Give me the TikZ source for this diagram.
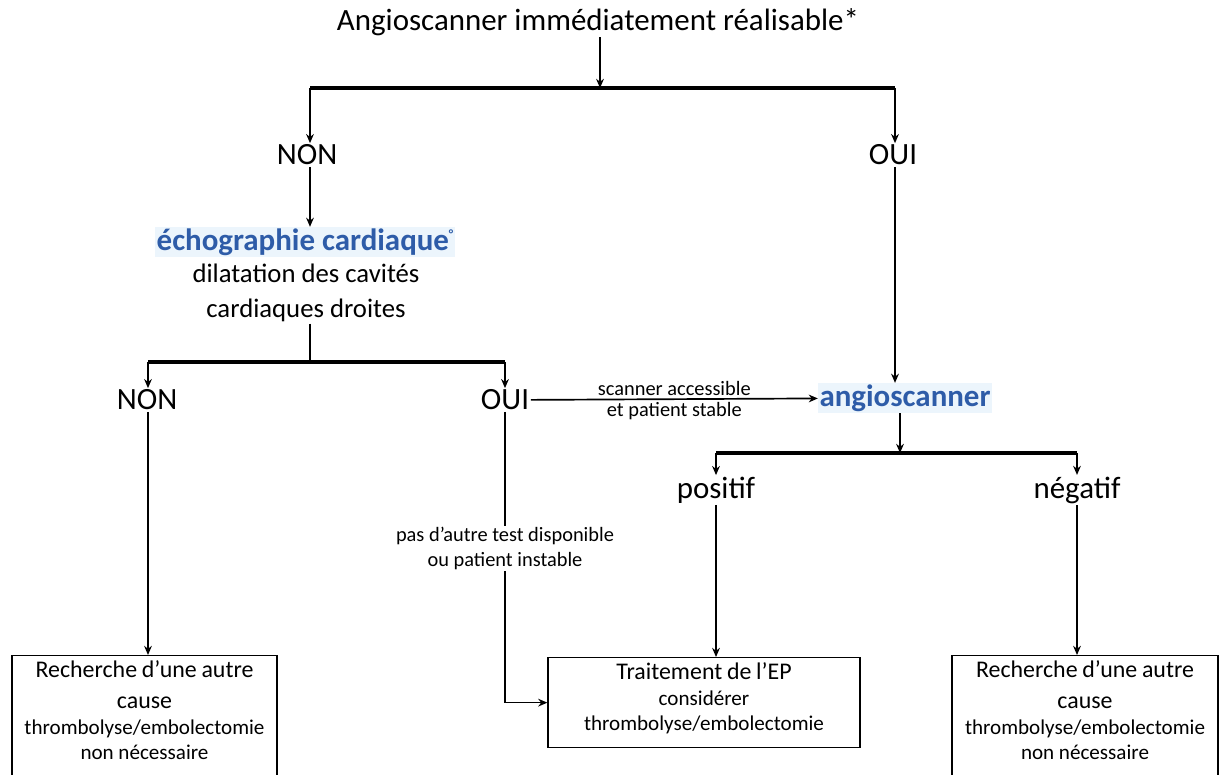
\documentclass[tikz,border=0pt]{standalone}
\usepackage{fontspec}
\setmainfont{Carlito}
\usetikzlibrary{arrows.meta}
\definecolor{examblue}{RGB}{46,92,168}
\definecolor{examglow}{RGB}{236,245,252}
\newcommand{\bigtxt}{\fontsize{22}{26}\selectfont}
\newcommand{\boxtxt}{\fontsize{17}{22}\selectfont}
\newcommand{\smalltxt}{\fontsize{15}{18}\selectfont}
\newcommand{\lbltxt}{\fontsize{14.5}{18}\selectfont}

\begin{document}
\begin{tikzpicture}[x=0.025cm, y=-0.025cm,
  heavy/.style={line width=2.2pt},
  medium/.style={line width=1.8pt},
  light/.style={line width=1.2pt},
  tip/.style={-{Stealth[length=6.5pt,width=5.5pt]}},
  answer/.style={font=\bigtxt, inner sep=1pt},
  exam/.style={font=\bigtxt\bfseries, text=examblue, fill=examglow, inner sep=1pt},
  note/.style={font=\lbltxt, align=center, inner sep=1pt},
  resbox/.style={draw, line width=0.9pt},
  restext/.style={align=center, inner sep=1pt, text width=6.5cm}]
\useasboundingbox (0,0) rectangle (1220,774);
\clip (0,0) rectangle (1220,774);

% first question
\node[answer] (ask) at (598,22) {Angioscanner immédiatement réalisable*};
\coordinate (split) at (600,88);
\coordinate (splitL) at (310,88);
\coordinate (splitR) at (895,88);
\node[answer] (non) at (307,155) {NON};
\node[answer] (oui) at (893,155) {OUI};
\draw[medium,tip] (ask.south -| split) -- (split);
\draw[heavy] (splitL) -- (splitR);
\draw[medium,tip] (splitL) -- (non.north -| splitL);
\draw[medium,tip] (splitR) -- (oui.north -| splitR);

% echographie branch
\node[exam] (echo) at (305,242) {échographie cardiaque\raisebox{0.8ex}{\fontsize{9}{9}\selectfont °}};
\node[align=center, inner sep=1pt, font=\fontsize{19}{25}\selectfont] (dilat) at (306,293) {dilatation des cavités\\cardiaques droites};
\draw[light,tip] (non.south -| splitL) -- (echo.north -| splitL);
\coordinate (split2) at (310,362);
\coordinate (split2L) at (148,362);
\coordinate (split2R) at (505,362);
\node[answer] (non2) at (147,400) {NON};
\node[answer] (oui2) at (505,400) {OUI};
\draw[medium] (dilat.south -| split2) -- (split2);
\draw[heavy] (split2L) -- (split2R);
\draw[medium,tip] (split2L) -- (non2.north -| split2L);
\draw[medium,tip] (split2R) -- (oui2.north -| split2R);

% angioscanner branch
\node[exam] (angio) at (905,398) {angioscanner};
\draw[light,tip] (oui2) -- (angio)
  node[note, midway, above=1pt] {scanner accessible}
  node[note, midway, below=1pt] {et patient stable};
\draw[medium,tip] (oui.south -| splitR) -- (angio.north -| splitR);
\coordinate (split3) at (900,453);
\coordinate (split3L) at (716,453);
\coordinate (split3R) at (1077,453);
\node[answer] (pos) at (716,490) {positif};
\node[answer] (neg) at (1077,490) {négatif};
\draw[medium,tip] (angio.south -| split3) -- (split3);
\draw[heavy] (split3L) -- (split3R);
\draw[medium,tip] (split3L) -- (pos.north -| split3L);
\draw[medium,tip] (split3R) -- (neg.north -| split3R);

% results
\node[resbox, minimum width=6.625cm, minimum height=3.5cm, anchor=north] (leftbox) at (144.5,655) {};
\node[restext, anchor=north] at ([yshift=-3pt]leftbox.north)
  {{\boxtxt Recherche d’une autre\\cause\par}{\smalltxt thrombolyse/embolectomie\\non nécessaire\par}};
\node[resbox, minimum width=7.8cm, minimum height=2.25cm, anchor=north] (midbox) at (704,657) {};
\node[restext, anchor=north] at ([yshift=-3pt]midbox.north)
  {{\boxtxt Traitement de l’EP\par}{\smalltxt considérer\\thrombolyse/embolectomie\par}};
\node[resbox, minimum width=6.65cm, minimum height=3.5cm, anchor=north] (rightbox) at (1085,655) {};
\node[restext, anchor=north] at ([yshift=-3pt]rightbox.north)
  {{\boxtxt Recherche d’une autre\\cause\par}{\smalltxt thrombolyse/embolectomie\\non nécessaire\par}};

\draw[light,tip] (non2.south -| split2L) -- (leftbox.north -| split2L);
\draw[medium,tip] (pos.south -| split3L) -- (midbox.north -| split3L);
\draw[medium,tip] (neg.south -| split3R) -- (rightbox.north -| split3R);
\draw[light,tip] (oui2.south -| split2R) |- (midbox.west)
  node[note, fill=white, pos=0.235] {pas d’autre test disponible\\ou patient instable};
\end{tikzpicture}
\end{document}
